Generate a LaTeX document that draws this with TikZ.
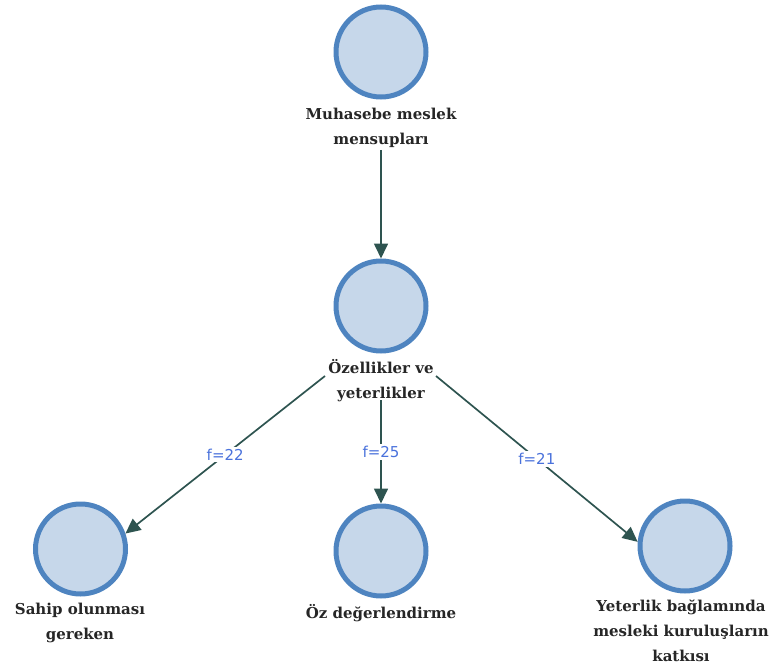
\documentclass[tikz,border=0pt]{standalone}
\usepackage{fontspec}
\setmainfont{DejaVu Serif}
\newfontfamily\lblfont{DejaVu Sans}
\usetikzlibrary{arrows.meta}
\definecolor{circfill}{HTML}{C6D7EA}
\definecolor{circline}{HTML}{4E84C0}
\definecolor{arrowcol}{HTML}{2E5450}
\definecolor{lblcol}{HTML}{4A72DC}
\begin{document}
\begin{tikzpicture}[x=1pt,y=-1pt,
  circ/.style={circle,draw=circline,fill=circfill,line width=5pt,minimum size=90pt,inner sep=0pt},
  txt/.style={align=center,font=\bfseries\fontsize{15}{25}\selectfont,text=black!85,inner sep=0pt},
  conn/.style={draw=arrowcol,line width=1.7pt,-{Triangle[length=15pt,width=14pt]}},
  flbl/.style={font=\lblfont\fontsize{15}{16}\selectfont,text=lblcol,fill=white,inner sep=2pt}]
\useasboundingbox (0,0) rectangle (776,671);
% circles
\node[circ] (top) at (381,52) {};
\node[circ] (mid) at (381,306) {};
\node[circ] (bl) at (80.5,549) {};
\node[circ] (bm) at (381,551) {};
\node[circ] (br) at (685,546) {};
% texts
\node[txt] (ttop) at (381,128) {Muhasebe meslek\\mensupları};
\node[txt] (tmid) at (381,381) {Özellikler ve\\yeterlikler};
\node[txt] (tbl) at (80,623) {Sahip olunması\\gereken};
\node[txt] (tbm) at (381,613) {Öz değerlendirme};
\node[txt] (tbr) at (681,631) {Yeterlik bağlamında\\mesleki kuruluşların\\katkısı};
% connector start points
\coordinate (s0) at (381,150);
\coordinate (s1) at (325,376);
\coordinate (s2) at (381,400);
\coordinate (s3) at (436,376);
% connectors
\draw[conn] (s0) -- (mid.north);
\draw[conn] (s1) -- node[flbl] (f1) {f=22} (bl.19);
\draw[conn] (s2) -- node[flbl] (f2) {f=25} (bm.north);
\draw[conn] (s3) -- node[flbl] (f3) {f=21} (br.175);
\end{tikzpicture}
\end{document}
